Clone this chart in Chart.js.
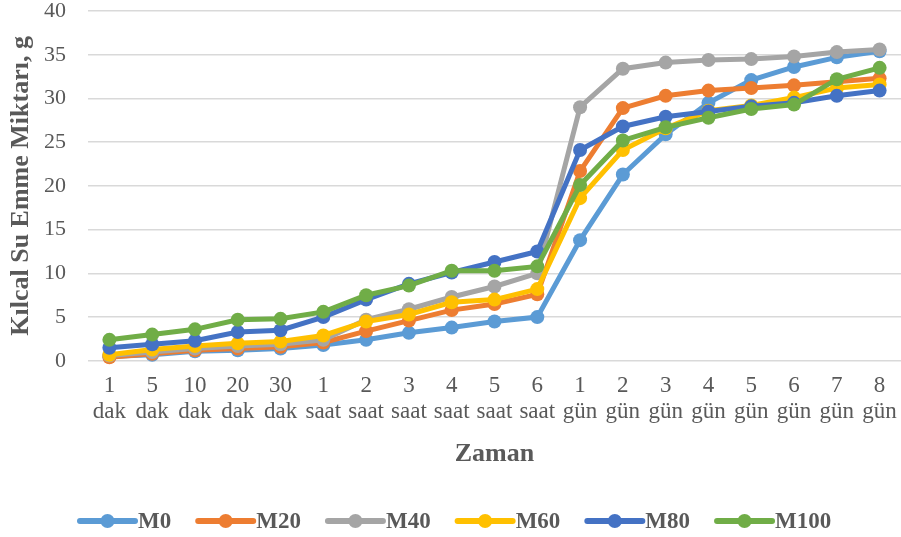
<!DOCTYPE html>
<html>
<head>
<meta charset="utf-8">
<script src="https://cdn.jsdelivr.net/npm/chart.js@4/dist/chart.umd.min.js"></script>
<style>
  html, body { margin: 0; padding: 0; background: #fff; }
  #wrap { width: 901px; height: 537px; }
</style>
</head>
<body>
<div id="wrap"><canvas id="c" width="901" height="537"></canvas></div>
<script>
// Time points (two-line labels: value / unit)
const categories = [
  ['1','dak'],['5','dak'],['10','dak'],['20','dak'],['30','dak'],
  ['1','saat'],['2','saat'],['3','saat'],['4','saat'],['5','saat'],['6','saat'],
  ['1','gün'],['2','gün'],['3','gün'],['4','gün'],['5','gün'],['6','gün'],['7','gün'],['8','gün']
];

// Capillary water absorption (g) per mix
const M0   = [0.5, 0.7, 1.1, 1.2, 1.4, 1.8, 2.4, 3.2, 3.8, 4.5, 5.0, 13.8, 21.3, 25.9, 29.5, 32.1, 33.6, 34.7, 35.4];
const M20  = [0.4, 0.8, 1.2, 1.4, 1.6, 2.1, 3.4, 4.6, 5.8, 6.5, 7.6, 21.7, 28.9, 30.3, 30.9, 31.2, 31.5, 31.9, 32.3];
const M40  = [0.6, 1.0, 1.4, 1.7, 1.9, 2.4, 4.7, 5.9, 7.3, 8.5, 10.0, 29.0, 33.4, 34.1, 34.4, 34.5, 34.8, 35.3, 35.6];
const M60  = [0.7, 1.3, 1.7, 2.0, 2.2, 2.9, 4.5, 5.3, 6.7, 7.0, 8.2, 18.6, 24.1, 26.6, 28.6, 29.2, 30.1, 31.2, 31.6];
const M80  = [1.5, 1.9, 2.3, 3.3, 3.5, 5.0, 7.0, 8.8, 10.1, 11.3, 12.5, 24.1, 26.8, 27.9, 28.5, 29.1, 29.5, 30.3, 30.9];
const M100 = [2.4, 3.0, 3.6, 4.7, 4.8, 5.6, 7.5, 8.6, 10.3, 10.3, 10.8, 20.1, 25.2, 26.7, 27.8, 28.8, 29.3, 32.2, 33.5];

const seriesNames  = ['M0', 'M20', 'M40', 'M60', 'M80', 'M100'];
const seriesValues = [M0, M20, M40, M60, M80, M100];
const seriesColors = ['#5B9BD5', '#ED7D31', '#A5A5A5', '#FFC000', '#4472C4', '#70AD47'];

const yTicks = { min: 0, max: 40, step: 5 };

const textColor = '#595959';
const serif = '"Liberation Serif", "Times New Roman", serif';

// Legend below the axis title: line segment with a round marker, then the series name
const legendPlugin = {
  id: 'bottomLegend',
  afterDraw(chart) {
    const ctx = chart.ctx;
    const y = 521;
    const segLen = 55;
    let x = 80;
    ctx.save();
    ctx.font = 'bold 23px ' + serif;
    ctx.textBaseline = 'middle';
    chart.data.datasets.forEach(ds => {
      ctx.strokeStyle = ds.borderColor;
      ctx.lineWidth = 6;
      ctx.lineCap = 'round';
      ctx.beginPath();
      ctx.moveTo(x, y);
      ctx.lineTo(x + segLen, y);
      ctx.stroke();
      ctx.fillStyle = ds.borderColor;
      ctx.beginPath();
      ctx.arc(x + segLen / 2, y, 7, 0, Math.PI * 2);
      ctx.fill();
      ctx.fillStyle = textColor;
      ctx.textAlign = 'left';
      ctx.fillText(ds.label, x + segLen + 3, y + 1);
      x += segLen + 3 + ctx.measureText(ds.label).width + 27;
    });
    ctx.restore();
  }
};

new Chart(document.getElementById('c'), {
  type: 'line',
  data: {
    labels: categories,
    datasets: seriesNames.map((name, i) => ({
      label: name,
      data: seriesValues[i],
      borderColor: seriesColors[i],
      backgroundColor: seriesColors[i],
      borderWidth: 5,
      pointRadius: 7,
      pointHoverRadius: 7,
      pointBorderWidth: 0,
      tension: 0,
      clip: false,
      order: seriesNames.length - i
    }))
  },
  options: {
    responsive: false,
    animation: false,
    layout: { autoPadding: false, padding: { top: 11, right: 0, bottom: 67, left: 0 } },
    plugins: {
      legend: { display: false },
      tooltip: { enabled: false }
    },
    scales: {
      x: {
        offset: true,
        grid: { display: false, drawTicks: false },
        border: { display: false },
        afterFit(scale) {
          scale.paddingLeft = 0;
          scale.paddingRight = 0;
        },
        ticks: {
          color: textColor,
          font: { family: serif, size: 23, lineHeight: 1.13 },
          maxRotation: 0,
          autoSkip: false,
          padding: 12
        },
        title: {
          display: true,
          text: 'Zaman',
          color: textColor,
          font: { family: serif, size: 26, weight: 'bold' },
          padding: { top: 2, bottom: 0 }
        }
      },
      y: {
        min: yTicks.min,
        max: yTicks.max,
        grid: { color: '#D9D9D9', lineWidth: 1.5, drawTicks: false },
        border: { display: false },
        afterFit(scale) {
          scale.width = 88;
          scale.paddingTop = 0;
          scale.paddingBottom = 0;
        },
        ticks: {
          stepSize: yTicks.step,
          color: textColor,
          font: { family: serif, size: 22 },
          padding: 22
        },
        title: {
          display: true,
          text: 'Kılcal Su Emme Miktarı, g',
          color: textColor,
          font: { family: serif, size: 26, weight: 'bold' },
          padding: { top: 6, bottom: 0 }
        }
      }
    }
  },
  plugins: [legendPlugin]
});
</script>
</body>
</html>
